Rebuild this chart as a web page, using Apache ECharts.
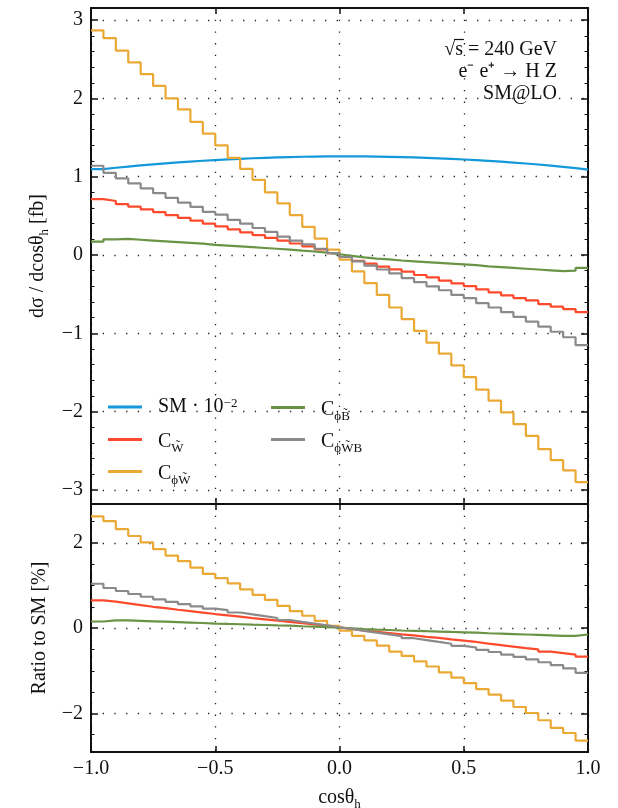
<!DOCTYPE html>
<html><head><meta charset="utf-8">
<script src="https://cdn.jsdelivr.net/npm/echarts@6/dist/echarts.min.js"></script>
<style>html,body{margin:0;padding:0;background:#fff}#c{width:618px;height:808px}</style>
</head><body><div id="c"></div>
<script>
// ---- binning (cos theta_h from -1 to 1, 40 bins) ----
const binStart = -1, binWidth = 0.05;

// ---- top panel: d sigma / d cos theta_h [fb] ----
const smTop = [1.098,1.115,1.130,1.144,1.158,1.171,1.183,1.194,1.204,1.213,1.222,1.229,1.236,1.242,1.247,1.251,1.255,1.257,1.259,1.260,
               1.260,1.259,1.257,1.254,1.250,1.246,1.241,1.235,1.228,1.220,1.211,1.202,1.192,1.181,1.169,1.156,1.142,1.127,1.110,1.090];
const cwTop = [0.715,0.690,0.650,0.617,0.583,0.548,0.510,0.475,0.440,0.400,0.365,0.328,0.290,0.255,0.218,0.183,0.147,0.110,0.073,0.025,
               -0.025,-0.073,-0.110,-0.147,-0.183,-0.213,-0.255,-0.285,-0.328,-0.362,-0.396,-0.440,-0.477,-0.515,-0.550,-0.580,-0.626,-0.660,-0.690,-0.730];
const cphiwTop = [2.87,2.77,2.61,2.46,2.31,2.16,2.00,1.86,1.70,1.55,1.40,1.24,1.10,0.96,0.80,0.66,0.51,0.36,0.21,0.07,
                  -0.06,-0.21,-0.36,-0.51,-0.67,-0.82,-0.97,-1.12,-1.26,-1.41,-1.56,-1.72,-1.86,-2.01,-2.16,-2.31,-2.48,-2.62,-2.75,-2.90];
const cphibTop = [0.170,0.200,0.205,0.195,0.185,0.175,0.165,0.155,0.145,0.130,0.120,0.110,0.100,0.090,0.080,0.070,0.055,0.045,0.030,0.010,
                  -0.010,-0.030,-0.045,-0.055,-0.070,-0.080,-0.090,-0.100,-0.110,-0.120,-0.130,-0.145,-0.155,-0.165,-0.175,-0.185,-0.195,-0.205,-0.200,-0.165];
const cphiwbTop = [1.14,1.05,0.98,0.915,0.85,0.79,0.73,0.67,0.615,0.55,0.515,0.45,0.40,0.345,0.295,0.235,0.185,0.135,0.08,0.025,
                   -0.025,-0.08,-0.135,-0.185,-0.235,-0.295,-0.345,-0.40,-0.45,-0.51,-0.55,-0.615,-0.67,-0.73,-0.79,-0.85,-0.915,-0.98,-1.05,-1.15];

// ---- bottom panel: ratio to SM [%] ----
const cwRatio = [0.65,0.62,0.58,0.54,0.50,0.47,0.43,0.40,0.365,0.33,0.30,0.27,0.235,0.205,0.175,0.146,0.117,0.088,0.058,0.02,
                 -0.02,-0.058,-0.088,-0.117,-0.146,-0.172,-0.205,-0.23,-0.265,-0.295,-0.325,-0.365,-0.40,-0.435,-0.47,-0.50,-0.55,-0.585,-0.62,-0.67];
const cphiwRatio = [2.62,2.51,2.32,2.16,2.01,1.85,1.70,1.57,1.42,1.27,1.17,1.05,0.91,0.78,0.66,0.52,0.40,0.29,0.17,0.05,
                    -0.06,-0.18,-0.29,-0.41,-0.55,-0.65,-0.78,-0.90,-1.04,-1.16,-1.29,-1.43,-1.56,-1.70,-1.85,-1.99,-2.16,-2.34,-2.46,-2.64];
const cphibRatio = [0.155,0.18,0.18,0.17,0.16,0.15,0.14,0.13,0.12,0.107,0.098,0.09,0.081,0.073,0.064,0.056,0.044,0.036,0.024,0.008,
                    -0.008,-0.024,-0.036,-0.044,-0.056,-0.064,-0.073,-0.081,-0.09,-0.098,-0.107,-0.12,-0.13,-0.14,-0.15,-0.16,-0.17,-0.18,-0.18,-0.15];
const cphiwbRatio = [1.04,0.94,0.87,0.80,0.735,0.675,0.617,0.56,0.51,0.455,0.42,0.366,0.324,0.28,0.237,0.19,0.148,0.108,0.064,0.02,
                     -0.02,-0.064,-0.108,-0.148,-0.19,-0.237,-0.28,-0.324,-0.366,-0.415,-0.455,-0.51,-0.56,-0.62,-0.675,-0.735,-0.80,-0.87,-0.945,-1.05];

// ---- ticks ----
const xTicks = [-1, -0.5, 0, 0.5, 1];
const topTicks = [-3, -2, -1, 0, 1, 2, 3];
const ratioTicks = [-2, 0, 2];
const topMinor = [], ratioMinor = [];
for (let i = -15; i <= 15; i++) if (i % 5 !== 0) topMinor.push(+(i * 0.2).toFixed(2));
for (let i = -5; i <= 5; i++) if (i % 4 !== 0) ratioMinor.push(+(i * 0.5).toFixed(2));

const colors = {SM:'#1398da', CW:'#fd4a2c', CphiW:'#eaa935', CphiB:'#6a9445', CphiWB:'#8a8a8a'};
const labelRich = {
  SM: '{n|SM · 10}{sup|−2}',
  CW: '{n|C}{sub|W̃}',
  CphiW: '{n|C}{sub|ϕW̃}',
  CphiB: '{n|C}{sub|ϕB̃}',
  CphiWB: '{n|C}{sub|ϕW̃B}'
};

const FONT = 'Liberation Serif';
const INK = '#111';
const minus = s => String(s).replace('-', '−');

function hist(vals) {
  const d = vals.map((v, i) => [+(binStart + i * binWidth).toFixed(3), v]);
  d.push([+(binStart + vals.length * binWidth).toFixed(3), vals[vals.length - 1]]);
  return d;
}

const richStyles = {
  n: {fontFamily: FONT, fontSize: 20, color: INK, lineHeight: 30, verticalAlign: 'top'},
  sub: {fontFamily: FONT, fontSize: 13, color: INK, lineHeight: 20, padding: [10, 0, 0, 0], verticalAlign: 'top'},
  sup: {fontFamily: FONT, fontSize: 13, color: INK, lineHeight: 16, padding: [0, 0, 14, 0], verticalAlign: 'top'}
};

const dotted = {show: true, lineStyle: {color: '#222', width: 1.3, type: [1.3, 10.4]}};

function xAx(grid, pos, labels) {
  const a = {
    type: 'value', gridIndex: grid, position: pos, min: -1, max: 1, interval: 0.5,
    axisLine: {show: true, onZero: false, lineStyle: {color: INK, width: 2}},
    axisTick: {show: true, inside: true, length: 6, customValues: xTicks, lineStyle: {color: INK, width: 1.5}},
    axisLabel: {show: labels, customValues: xTicks, fontFamily: FONT, fontSize: 20, color: INK, margin: 7,
      formatter: v => minus(v.toFixed(1))},
    splitLine: pos === 'bottom' ? dotted : {show: false}
  };
  if (labels) {
    a.name = '{n|cosθ}{sub|h}';
    a.nameLocation = 'middle';
    a.nameGap = 36;
    a.nameTextStyle = {rich: richStyles};
  }
  return a;
}

function yAx(grid, pos, min, max, ticks, opts) {
  return Object.assign({
    type: 'value', gridIndex: grid, position: pos, min: min, max: max, splitNumber: 3,
    axisLine: {show: true, onZero: false, lineStyle: {color: INK, width: 2}},
    axisTick: {show: true, inside: true, length: 7, customValues: ticks, lineStyle: {color: INK, width: 1.5}},
    axisLabel: {show: false},
    splitLine: {show: false}
  }, opts || {});
}
function yMinor(grid, pos, min, max, ticks) {
  return {
    type: 'value', gridIndex: grid, position: pos, min: min, max: max, splitNumber: 3,
    axisLine: {show: false, onZero: false},
    axisTick: {show: true, inside: true, length: 3.5, customValues: ticks, lineStyle: {color: INK, width: 1}},
    axisLabel: {show: false}, splitLine: {show: false}
  };
}

const TOPMIN = -3.18, TOPMAX = 3.155, RMIN = -2.905, RMAX = 2.91;

const yAxes = [
  yAx(0, 'left', TOPMIN, TOPMAX, topTicks, {
    axisLabel: {show: true, customValues: topTicks, fontFamily: FONT, fontSize: 20, color: INK, margin: 8, formatter: v => minus(v)},
    splitLine: dotted,
    name: '{n|dσ / dcosθ}{sub|h}{n| [fb]}', nameLocation: 'middle', nameGap: 31, nameTextStyle: {rich: richStyles}
  }),
  yAx(0, 'right', TOPMIN, TOPMAX, topTicks),
  yMinor(0, 'left', TOPMIN, TOPMAX, topMinor),
  yMinor(0, 'right', TOPMIN, TOPMAX, topMinor),
  yAx(1, 'left', RMIN, RMAX, ratioTicks, {
    axisLabel: {show: true, customValues: ratioTicks, fontFamily: FONT, fontSize: 20, color: INK, margin: 8, formatter: v => minus(v)},
    splitLine: dotted,
    name: 'Ratio to SM [%]', nameLocation: 'middle', nameGap: 41, nameTextStyle: {fontFamily: FONT, fontSize: 20, color: INK}
  }),
  yAx(1, 'right', RMIN, RMAX, ratioTicks),
  yMinor(1, 'left', RMIN, RMAX, ratioMinor),
  yMinor(1, 'right', RMIN, RMAX, ratioMinor)
];

function line(name, data, xi, yi) {
  return {
    name: name, type: 'line', step: 'end', data: hist(data), xAxisIndex: xi, yAxisIndex: yi,
    symbol: 'none', showSymbol: false, clip: true, animation: false,
    lineStyle: {color: colors[name], width: 2.2},
    itemStyle: {color: colors[name]}
  };
}

const series = [
  line('SM', smTop, 0, 0),
  line('CW', cwTop, 0, 0),
  line('CphiW', cphiwTop, 0, 0),
  line('CphiB', cphibTop, 0, 0),
  line('CphiWB', cphiwbTop, 0, 0),
  line('CW', cwRatio, 2, 4),
  line('CphiW', cphiwRatio, 2, 4),
  line('CphiB', cphibRatio, 2, 4),
  line('CphiWB', cphiwbRatio, 2, 4)
];

// one legend entry per component, placed on a two-column layout
function legend(left, rowCenter, name) {
  const hasSub = name !== 'SM';
  return {
    left: left, top: rowCenter - (hasSub ? 7 : 10), orient: 'vertical', itemWidth: 34, itemHeight: 3, icon: 'rect',
    selectedMode: false, data: [name], padding: 0,
    formatter: n => labelRich[n],
    textStyle: {padding: [hasSub ? 15 : 10, 0, 0, 11], rich: richStyles}
  };
}

// right-aligned annotation, with an overline above the "s" of the square root
const annFont = '20px "Liberation Serif"';
const mctx = document.createElement('canvas').getContext('2d');
mctx.font = annFont;
const annRight = 557;
const line1 = '√s = 240 GeV';
const l1w = mctx.measureText(line1).width;
const sx0 = annRight - l1w + mctx.measureText('√').width - 1;
const sx1 = sx0 + mctx.measureText('s').width + 2;

const chart = echarts.init(document.getElementById('c'), null, {renderer: 'canvas'});
chart.setOption({
  backgroundColor: '#fff',
  animation: false,
  grid: [
    {left: 91, top: 8, width: 497, height: 496, outerBoundsMode: 'none', containLabel: false},
    {left: 91, top: 504, width: 497, height: 248, outerBoundsMode: 'none', containLabel: false}
  ],
  xAxis: [xAx(0, 'bottom', false), xAx(0, 'top', false), xAx(1, 'bottom', true), xAx(1, 'top', false)],
  yAxis: yAxes,
  legend: [
    legend(108, 407, 'SM'), legend(108, 439, 'CW'), legend(108, 471, 'CphiW'),
    legend(271, 407, 'CphiB'), legend(271, 439, 'CphiWB')
  ],
  graphic: [
    {type: 'text', x: annRight, y: 60, style: {text: line1, font: annFont, fill: INK, align: 'right', verticalAlign: 'bottom'}},
    {type: 'line', shape: {x1: sx0, y1: 39.5, x2: sx1, y2: 39.5}, style: {stroke: INK, lineWidth: 1.2}},
    {type: 'text', x: annRight, y: 82, style: {text: 'e⁻ e⁺ → H Z', font: annFont, fill: INK, align: 'right', verticalAlign: 'bottom'}},
    {type: 'text', x: annRight, y: 104, style: {text: 'SM@LO', font: annFont, fill: INK, align: 'right', verticalAlign: 'bottom'}}
  ],
  series: series
});
</script>
</body></html>
